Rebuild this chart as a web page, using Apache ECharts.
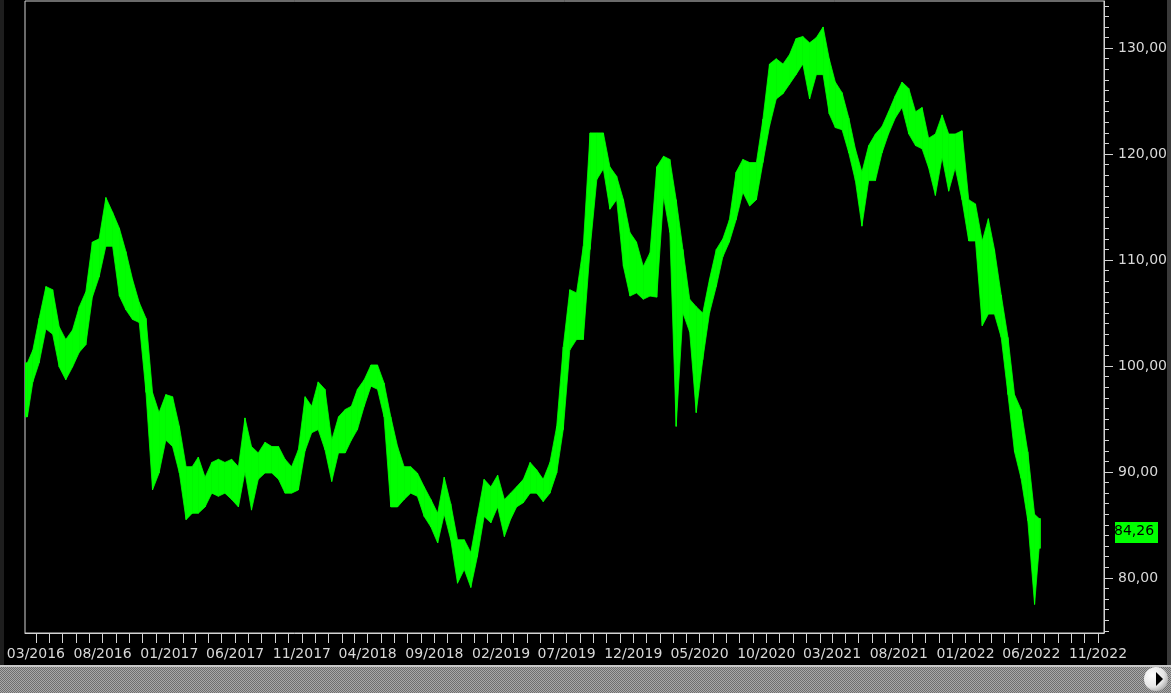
<!DOCTYPE html>
<html>
<head>
<meta charset="utf-8">
<script src="https://cdn.jsdelivr.net/npm/echarts@6/dist/echarts.min.js"></script>
<style>
html,body{margin:0;padding:0;background:#000;}
#c{width:1171px;height:693px;}
</style>
</head>
<body>
<div id="c"></div>
<script>
// Semi-monthly windows: start date, low and high of the price within the window
var dates = [
'2016-02-05','2016-02-16','2016-03-01','2016-03-16','2016-04-01','2016-04-16','2016-05-01','2016-05-16','2016-06-01','2016-06-16',
'2016-07-01','2016-07-16','2016-08-01','2016-08-16','2016-09-01','2016-09-16','2016-10-01','2016-10-16','2016-11-01','2016-11-16',
'2016-12-01','2016-12-16','2017-01-01','2017-01-16','2017-02-01','2017-02-16','2017-03-01','2017-03-16','2017-04-01','2017-04-16',
'2017-05-01','2017-05-16','2017-06-01','2017-06-16','2017-07-01','2017-07-16','2017-08-01','2017-08-16','2017-09-01','2017-09-16',
'2017-10-01','2017-10-16','2017-11-01','2017-11-16','2017-12-01','2017-12-16','2018-01-01','2018-01-16','2018-02-01','2018-02-16',
'2018-03-01','2018-03-16','2018-04-01','2018-04-16','2018-05-01','2018-05-16','2018-06-01','2018-06-16','2018-07-01','2018-07-16',
'2018-08-01','2018-08-16','2018-09-01','2018-09-16','2018-10-01','2018-10-16','2018-11-01','2018-11-16','2018-12-01','2018-12-16',
'2019-01-01','2019-01-16','2019-02-01','2019-02-16','2019-03-01','2019-03-16','2019-04-01','2019-04-16','2019-05-01','2019-05-16',
'2019-06-01','2019-06-16','2019-07-01','2019-07-16','2019-08-01','2019-08-16','2019-09-01','2019-09-16','2019-10-01','2019-10-16',
'2019-11-01','2019-11-16','2019-12-01','2019-12-16','2020-01-01','2020-01-16','2020-02-01','2020-02-16','2020-03-01','2020-03-16',
'2020-04-01','2020-04-16','2020-05-01','2020-05-16','2020-06-01','2020-06-16','2020-07-01','2020-07-16','2020-08-01','2020-08-16',
'2020-09-01','2020-09-16','2020-10-01','2020-10-16','2020-11-01','2020-11-16','2020-12-01','2020-12-16','2021-01-01','2021-01-16',
'2021-02-01','2021-02-16','2021-03-01','2021-03-16','2021-04-01','2021-04-16','2021-05-01','2021-05-16','2021-06-01','2021-06-16',
'2021-07-01','2021-07-16','2021-08-01','2021-08-16','2021-09-01','2021-09-16','2021-10-01','2021-10-16','2021-11-01','2021-11-16',
'2021-12-01','2021-12-16','2022-01-01','2022-01-16','2022-02-01','2022-02-16','2022-03-01','2022-03-16','2022-04-01','2022-04-16',
'2022-05-01','2022-05-16','2022-06-01','2022-06-16'
];
var endDate = '2022-06-22';
var lows = [
95.2,98.5,100.3,103.5,103.0,99.9,98.7,99.9,101.3,102.0,
106.5,108.4,111.3,111.3,106.6,105.3,104.4,104.1,97.5,88.3,
89.9,93.0,92.4,89.9,85.5,86.1,86.1,86.7,88.0,87.7,
88.0,87.4,86.7,90.0,86.4,89.3,89.9,89.9,89.3,88.0,
88.0,88.3,92.0,93.7,94.0,92.1,89.1,91.8,91.8,93.0,
94.0,96.2,98.1,97.8,95.2,86.7,86.7,87.4,88.0,87.7,
85.8,84.8,83.3,86.0,83.6,79.5,80.8,79.1,82.0,85.8,
85.2,86.7,83.9,85.5,86.7,87.1,88.0,88.0,87.2,88.0,
89.9,94.0,101.5,102.5,102.5,111.0,117.6,118.6,114.8,115.7,
109.4,106.6,106.9,106.3,106.6,106.5,116.0,112.6,94.3,105.0,
103.2,95.6,100.6,105.0,107.5,110.3,111.7,113.8,116.4,115.1,
115.7,119.2,122.6,125.2,125.7,126.6,127.5,128.5,125.2,127.5,
127.5,123.8,122.5,122.3,120.1,117.5,113.2,117.5,117.5,120.1,
121.9,123.4,124.4,121.9,120.8,120.5,118.7,116.1,119.7,116.5,
118.7,115.7,111.8,111.8,103.8,104.9,104.9,102.7,97.3,91.9,
89.4,85.4,77.5,82.8
];
var highs = [
100.3,101.5,104.5,107.5,107.2,103.7,102.5,103.4,105.6,107.0,
111.7,112.0,115.9,114.5,113.0,110.8,108.2,106.0,104.5,97.5,
95.6,97.3,97.1,94.3,90.5,90.5,91.4,89.5,90.9,91.2,
90.9,91.2,90.5,95.1,92.4,91.8,92.8,92.4,92.4,91.2,
90.5,92.1,97.1,96.2,98.5,97.8,93.0,95.2,95.9,96.2,
97.8,98.7,100.1,100.1,98.4,95.2,92.4,90.5,90.5,89.9,
88.6,87.4,86.1,89.5,87.0,83.6,83.6,82.4,85.8,89.3,
88.6,89.7,87.4,88.0,88.6,89.3,90.9,90.2,89.3,90.9,
94.3,101.8,107.2,106.9,111.3,122.0,122.0,122.0,118.8,117.9,
115.7,112.6,111.7,109.4,110.7,118.8,119.8,119.5,115.7,111.0,
106.3,105.6,105.0,108.2,111.0,112.0,113.8,118.3,119.5,119.2,
119.2,123.3,128.5,129.0,128.5,129.4,130.9,131.1,130.5,131.0,
132.0,129.0,126.8,125.8,123.4,120.5,118.3,120.8,121.9,122.6,
124.0,125.5,126.8,126.2,124.0,124.4,121.5,121.9,123.7,121.9,
121.9,122.2,115.7,115.3,111.8,113.9,111.0,106.7,102.7,97.3,
95.9,91.9,86.0,85.6
];
var lastClose = 84.26;
var yLabels = [80, 90, 100, 110, 120, 130];

function ts(s) {
  var p = s.split(/[- :]/);
  return new Date(+p[0], +p[1] - 1, +p[2], p[3] ? +p[3] : 0).getTime();
}

var chart = echarts.init(document.getElementById('c'), null, {renderer: 'canvas'});

var n = dates.length;
var data = dates.map(function (d, i) {
  var t0 = ts(d), t1 = ts(i + 1 < n ? dates[i + 1] : endDate);
  return [t0, lows[i], highs[i], t1];
});

function monthStarts(y0, m0, y1, m1) {
  var out = [];
  var y = y0, m = m0;
  while (y < y1 || (y === y1 && m <= m1)) {
    out.push(new Date(y, m - 1, 1).getTime());
    m++; if (m > 12) { m = 1; y++; }
  }
  return out;
}
var tickVals = monthStarts(2016, 3, 2022, 11);
var labelVals = tickVals.filter(function (v, i) { return i % 5 === 0; });
var minorY = [];
for (var v = 75; v <= 134; v++) minorY.push(v);

var fontFam = 'DejaVu Sans, sans-serif';
var lineCol = '#d4d4d4';
var textCol = '#d8d8d8';
var green = '#00ff00';

// checker pattern for scroll bar
var pc = document.createElement('canvas');
pc.width = 2; pc.height = 2;
var pctx = pc.getContext('2d');
pctx.fillStyle = '#6f6f6f'; pctx.fillRect(0, 0, 2, 2);
pctx.fillStyle = '#a9a9a9'; pctx.fillRect(0, 0, 1, 1); pctx.fillRect(1, 1, 1, 1);

function bandPts(api, i) {
  var d = data[i];
  var cx = (d[0] + d[3]) / 2;
  var top = api.coord([cx, d[2]]);
  var bot = api.coord([cx, d[1]]);
  if (bot[1] - top[1] < 3) { var m = (top[1] + bot[1]) / 2; top[1] = m - 1.5; bot[1] = m + 1.5; }
  return {x: top[0], top: top[1], bot: bot[1]};
}

var option = {
  backgroundColor: '#000000',
  animation: false,
  grid: {
    left: 25, right: 67, top: 1, bottom: 60,
    show: true, borderColor: lineCol, borderWidth: 1, backgroundColor: '#000'
  },
  xAxis: {
    type: 'value',
    min: ts('2016-02-05'),
    max: ts('2022-11-14 18'),
    axisLine: {show: true, lineStyle: {color: lineCol, width: 1}},
    axisTick: {show: true, length: 10, customValues: tickVals, lineStyle: {color: lineCol}},
    axisLabel: {
      show: true, customValues: labelVals, color: textCol, fontFamily: fontFam, fontSize: 14, margin: 14,
      hideOverlap: false, showMinLabel: true, showMaxLabel: true,
      formatter: function (val) {
        var d = new Date(val);
        var m = d.getMonth() + 1;
        return (m < 10 ? '0' + m : '' + m) + '/' + d.getFullYear();
      }
    },
    splitLine: {show: false}
  },
  yAxis: [{
    type: 'value', position: 'right', min: 74.8, max: 134.45,
    axisLine: {show: true, lineStyle: {color: lineCol}},
    axisTick: {show: true, length: 5, customValues: minorY, lineStyle: {color: lineCol}},
    axisLabel: {show: false},
    splitLine: {show: false}
  }, {
    type: 'value', position: 'right', min: 74.8, max: 134.45,
    axisLine: {show: false},
    axisTick: {show: true, length: 9, customValues: yLabels, lineStyle: {color: lineCol}},
    axisLabel: {
      show: true, customValues: yLabels, color: textCol, fontFamily: fontFam, fontSize: 14, margin: 14,
      formatter: function (val) { return val.toFixed(2).replace('.', ','); }
    },
    splitLine: {show: false}
  }],
  series: [{
    type: 'custom',
    yAxisIndex: 0,
    clip: true,
    encode: {x: [0, 3], y: [1, 2]},
    data: data,
    renderItem: function (params, api) {
      var i = params.dataIndex;
      var c = bandPts(api, i);
      var children = [];
      var st = {fill: green, stroke: green, lineWidth: 0.8};
      if (i === 0) {
        var x0 = api.coord([data[0][0], data[0][1]])[0];
        children.push({type: 'rect', shape: {x: x0, y: c.top, width: c.x - x0, height: c.bot - c.top}, style: st});
      }
      if (i < n - 1) {
        var nx = bandPts(api, i + 1);
        children.push({type: 'polygon', shape: {points: [[c.x, c.top], [nx.x, nx.top], [nx.x, nx.bot], [c.x, c.bot]]}, style: st});
      } else {
        var x1 = api.coord([data[i][3], data[i][1]])[0];
        children.push({type: 'rect', shape: {x: c.x, y: c.top, width: x1 - c.x, height: c.bot - c.top}, style: st});
      }
      return {type: 'group', children: children};
    }
  }]
};
chart.setOption(option);

var yPix = chart.convertToPixel({yAxisIndex: 0}, lastClose);
chart.setOption({
  graphic: [
    {type: 'rect', left: 0, top: 0, shape: {width: 4, height: 693}, style: {fill: '#1e1e1e'}, silent: true},
    {type: 'rect', left: 1167, top: 0, shape: {width: 4, height: 665}, style: {fill: '#3a3a3a'}, silent: true},
    {type: 'rect', left: 0, top: 665, shape: {width: 1171, height: 28}, style: {fill: {image: pc, repeat: 'repeat'}}, silent: true},
    {type: 'rect', left: 0, top: 665, shape: {width: 1171, height: 2}, style: {fill: '#c8c8c8'}, silent: true},
    {type: 'circle', shape: {cx: 1156, cy: 679, r: 12}, style: {
      fill: new echarts.graphic.RadialGradient(0.35, 0.35, 0.8, [{offset: 0, color: '#ffffff'}, {offset: 0.6, color: '#e6e6e6'}, {offset: 1, color: '#9a9a9a'}])
    }, silent: true},
    {type: 'polygon', shape: {points: [[1156, 672], [1163, 679], [1156, 686]]}, style: {fill: '#000'}, silent: true},
    {type: 'rect', left: 1115, top: Math.round(yPix) - 11, shape: {width: 43, height: 21}, style: {fill: green}, silent: true},
    {type: 'text', left: 1114, top: Math.round(yPix) - 9, style: {text: '84,26', fill: '#000', font: '14px DejaVu Sans, sans-serif'}, silent: true}
  ]
});
</script>
</body>
</html>
